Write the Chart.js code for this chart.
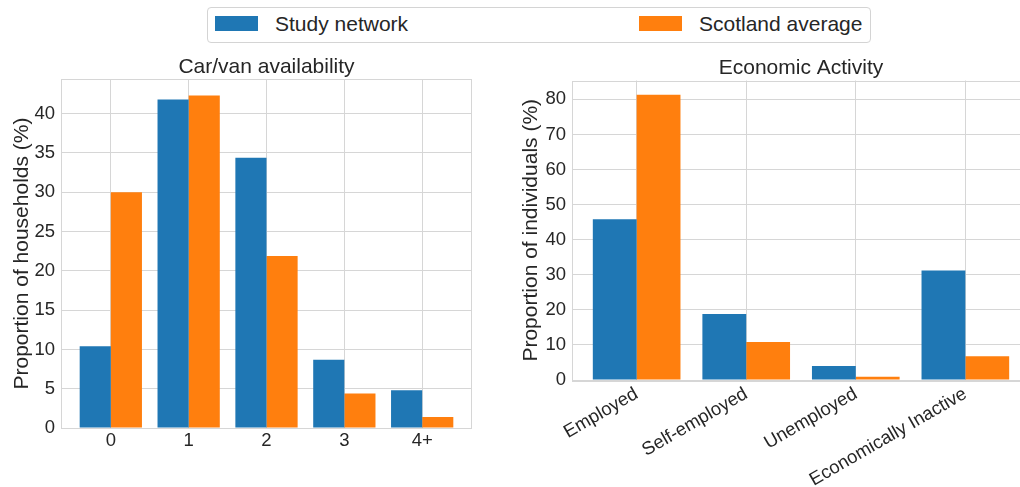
<!DOCTYPE html>
<html>
<head>
<meta charset="utf-8">
<script src="https://cdn.jsdelivr.net/npm/chart.js@4.4.1/dist/chart.umd.min.js"></script>
<style>
  html, body { margin: 0; padding: 0; background: #ffffff; }
  body { width: 1020px; height: 487px; position: relative; overflow: hidden;
         font-family: 'Liberation Sans', Arial, sans-serif; color: #262626; }
  canvas { position: absolute; top: 0; }
  #legend { position: absolute; left: 207px; top: 7px; width: 662px; height: 34px;
            border: 1px solid #d4d4d4; border-radius: 4px; background: #fff; }
  .swatch { position: absolute; top: 16px; width: 43px; height: 15px; }
  .ltext { position: absolute; top: 13px; font-size: 21px; line-height: 21px; white-space: nowrap; }
</style>
</head>
<body>
<div id="legend"></div>
<div class="swatch" style="left:215px;background:#1f77b4"></div>
<div class="ltext" style="left:275px">Study network</div>
<div class="swatch" style="left:639px;background:#ff7f0e"></div>
<div class="ltext" style="left:699px">Scotland average</div>

<canvas id="car" width="480" height="487" style="left:0px"></canvas>
<canvas id="econ" width="545" height="487" style="left:500px"></canvas>

<script>
// Car/van availability per household (%)
const carCategories = ['0', '1', '2', '3', '4+'];
const carStudy = [10.4, 41.8, 34.4, 8.7, 4.8];
const carScotland = [30.0, 42.3, 21.9, 4.4, 1.4];
const carTicks = [0, 5, 10, 15, 20, 25, 30, 35, 40];

// Economic activity of individuals (%)
const econCategories = ['Employed', 'Self-employed', 'Unemployed', 'Economically Inactive'];
const econStudy = [45.8, 18.8, 4.0, 31.2];
const econScotland = [81.3, 10.8, 0.9, 6.8];
const econTicks = [0, 10, 20, 30, 40, 50, 60, 70, 80];

const seriesNames = ['Study network', 'Scotland average'];
const seriesColors = ['#1f77b4', '#ff7f0e'];

const TEXT = '#262626';
const GRID = '#d6d6d6';
const FONT = "'Liberation Sans', Arial, sans-serif";
const TICK_SIZE = 18.5;

Chart.defaults.font.family = FONT;
Chart.defaults.color = TEXT;

// Light frame around the plotting area
const framePlugin = {
  id: 'frame',
  afterDatasetsDraw(chart) {
    const a = chart.chartArea, ctx = chart.ctx;
    ctx.save();
    ctx.strokeStyle = GRID;
    ctx.lineWidth = 1;
    ctx.strokeRect(Math.round(a.left) + 0.5, Math.round(a.top) + 0.5,
                   Math.round(a.right - a.left) - 1, Math.round(a.bottom - a.top));
    ctx.restore();
  }
};

// Panel title centred over the plotting area
const axesTitlePlugin = {
  id: 'axesTitle',
  afterDraw(chart, args, opts) {
    const a = chart.chartArea, ctx = chart.ctx;
    ctx.save();
    ctx.fillStyle = TEXT;
    ctx.font = '21px ' + FONT;
    ctx.textAlign = 'center';
    ctx.textBaseline = 'alphabetic';
    ctx.fillText(opts.text, (a.left + a.right) / 2, a.top - opts.gap);
    ctx.restore();
  }
};

function toPoints(values) {
  return values.map((v, i) => ({ x: i, y: v }));
}

function makeChart(id, cfg) {
  const cats = cfg.categories;
  const yMax = Math.max(...cfg.study, ...cfg.scotland) * 1.05;
  return new Chart(document.getElementById(id), {
    type: 'bar',
    data: {
      datasets: [
        { label: seriesNames[0], data: toPoints(cfg.study), backgroundColor: seriesColors[0], borderWidth: 0 },
        { label: seriesNames[1], data: toPoints(cfg.scotland), backgroundColor: seriesColors[1], borderWidth: 0 }
      ]
    },
    options: {
      responsive: false,
      animation: false,
      events: [],
      layout: { padding: { left: 0, right: cfg.padRight, top: cfg.areaTop, bottom: 0 } },
      datasets: { bar: { categoryPercentage: 0.8, barPercentage: 1.0, grouped: true } },
      plugins: {
        legend: { display: false },
        tooltip: { enabled: false },
        title: { display: false },
        axesTitle: { text: cfg.title, gap: cfg.titleGap }
      },
      scales: {
        x: {
          type: 'linear',
          min: -0.4 - 0.05 * (cats.length - 0.2),
          max: cats.length - 0.6 + 0.05 * (cats.length - 0.2),
          offset: false,
          afterBuildTicks: (s) => { s.ticks = cats.map((c, i) => ({ value: i })); },
          afterFit: (s) => { s.height = cfg.xHeight; },
          ticks: {
            callback: (v) => cats[Math.round(v)],
            font: { size: TICK_SIZE }, color: TEXT, padding: cfg.xPad,
            autoSkip: false, minRotation: cfg.rotation, maxRotation: cfg.rotation
          },
          grid: { color: GRID, lineWidth: 1, drawTicks: false, offset: false },
          border: { display: false }
        },
        y: {
          min: 0,
          max: yMax,
          afterBuildTicks: (s) => { s.ticks = cfg.yTicks.map((v) => ({ value: v })); },
          afterFit: (s) => { s.width = cfg.yWidth; },
          ticks: { font: { size: TICK_SIZE }, color: TEXT, padding: 6 },
          grid: { color: GRID, lineWidth: 1, drawTicks: false },
          border: { display: false },
          title: {
            display: true, text: cfg.yTitle, color: TEXT,
            font: { size: 21, lineHeight: 1.2 },
            padding: { top: cfg.yTitlePad, bottom: 0 }
          }
        }
      }
    },
    plugins: [framePlugin, axesTitlePlugin]
  });
}

makeChart('car', {
  categories: carCategories, study: carStudy, scotland: carScotland, yTicks: carTicks,
  title: 'Car/van availability', yTitle: 'Proportion of households (%)',
  padRight: 8, areaTop: 79, titleGap: 6, xHeight: 59, yWidth: 61, yTitlePad: 10, xPad: 2, rotation: 0
});

makeChart('econ', {
  categories: econCategories, study: econStudy, scotland: econScotland, yTicks: econTicks,
  title: 'Economic Activity', yTitle: 'Proportion of individuals (%)',
  padRight: 15, areaTop: 80.5, titleGap: 6.5, xHeight: 107, yWidth: 72, yTitlePad: 19, xPad: 3, rotation: 30
});
</script>
</body>
</html>
